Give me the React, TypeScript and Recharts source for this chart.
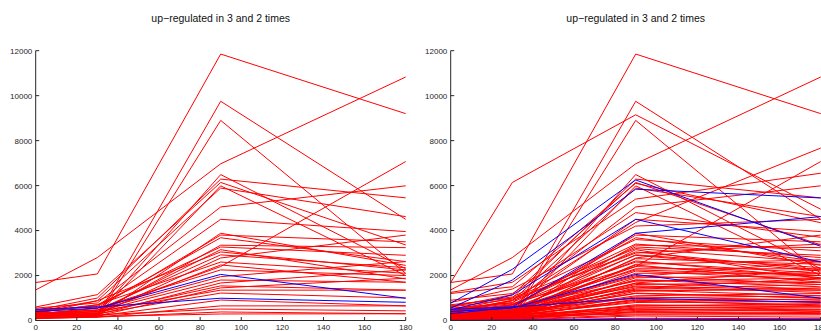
import React from 'react';
import { LineChart, Line, XAxis, YAxis } from 'recharts';

// time points (minutes)
const times = [0, 30, 90, 180];
const xTicks = [0, 20, 40, 60, 80, 100, 120, 140, 160, 180];
const yTicks = [0, 2000, 4000, 6000, 8000, 10000, 12000];
const title = 'up\u2212regulated in 3 and 2 times';

// each row: value at t = 0, 30, 90, 180
const leftRed = [
  [1690, 2070, 11850, 9200],
  [1360, 2800, 6970, 10830],
  [400, 200, 9750, 4500],
  [350, 150, 8900, 2100],
  [300, 450, 2400, 7070],
  [500, 300, 6490, 2300],
  [450, 1000, 6290, 5455],
  [600, 1150, 6140, 3360],
  [250, 250, 5990, 2000],
  [300, 880, 5890, 4620],
  [550, 780, 5050, 5990],
  [400, 650, 4500, 3955],
  [350, 200, 3880, 2450],
  [300, 550, 3800, 3500],
  [450, 620, 3680, 2620],
  [200, 330, 3350, 3240],
  [350, 700, 3270, 2900],
  [250, 400, 3150, 1850],
  [400, 880, 3050, 2250],
  [300, 470, 2920, 2350],
  [200, 260, 2780, 3800],
  [350, 700, 2600, 2100],
  [150, 330, 2470, 1700],
  [250, 550, 2250, 2000],
  [300, 470, 1950, 2620],
  [200, 400, 1800, 1700],
  [150, 260, 1670, 2250],
  [250, 350, 1540, 1350],
  [100, 200, 1450, 1880],
  [300, 400, 1350, 1350],
  [200, 300, 1220, 1000],
  [150, 200, 910, 650],
  [100, 150, 650, 650],
  [200, 250, 510, 430],
  [80, 150, 380, 300],
  [120, 180, 290, 300],
];

const leftBlue = [
  [400, 550, 2050, 990],
  [500, 600, 990, 810],
];

// extra genes only in the right panel
const rightExtraRed = [
  [1690, 6140, 9150, 4950],
  [400, 900, 4360, 7670],
  [1200, 1500, 6100, 4350],
  [1250, 1700, 5400, 6550],
  [900, 1200, 4800, 3700],
  [800, 1400, 4200, 4500],
  [650, 1050, 3600, 3100],
  [500, 800, 3400, 2800],
  [700, 1000, 3200, 2600],
  [600, 950, 3000, 3400],
  [400, 700, 2900, 2200],
  [350, 300, 2750, 2500],
  [300, 550, 2650, 1900],
  [250, 200, 2500, 2700],
  [450, 750, 2400, 2000],
  [200, 450, 2300, 2300],
  [350, 250, 2200, 1800],
  [150, 400, 2100, 2100],
  [300, 500, 2000, 1600],
  [250, 150, 1900, 2000],
  [100, 350, 1800, 1500],
  [400, 600, 1750, 1900],
  [200, 400, 1650, 1400],
  [150, 300, 1600, 1700],
  [300, 450, 1500, 1250],
  [100, 250, 1400, 1600],
  [250, 400, 1350, 1100],
  [50, 200, 1300, 1450],
  [200, 350, 1200, 1000],
  [150, 300, 1100, 1200],
  [100, 250, 1050, 900],
  [300, 400, 1000, 1100],
  [50, 150, 950, 800],
  [200, 300, 900, 950],
  [100, 200, 850, 700],
  [150, 250, 800, 850],
  [50, 100, 700, 600],
  [100, 200, 650, 750],
  [30, 100, 600, 500],
  [80, 150, 550, 600],
  [20, 80, 500, 400],
  [60, 120, 450, 500],
  [10, 50, 400, 350],
  [40, 100, 350, 300],
  [20, 60, 250, 250],
  [10, 30, 200, 150],
  [5, 20, 100, 80],
  [5, 10, 50, 40],
];

const rightExtraBlue = [
  [770, 2280, 6250, 3300],
  [550, 1800, 5840, 5450],
  [470, 1135, 4500, 2600],
  [300, 600, 3880, 4620],
  [5, 15, 60, 50],
];

const FONT = '"Liberation Sans", Arial, Helvetica, sans-serif';
const AXIS = '#262626';

const buildRows = (series: number[][]) =>
  times.map((t, i) => {
    const row: Record<string, number> = { t };
    series.forEach((s, k) => {
      row['g' + k] = s[i];
    });
    return row;
  });

const XTick = (props: any) => {
  const { x, y, payload } = props;
  return (
    <g>
      <line x1={x} x2={x} y1={y} y2={y - 3.5} stroke={AXIS} strokeWidth={1} />
      <text x={x} y={y + 9.5} textAnchor="middle" fontSize={8} fill={AXIS} fontFamily={FONT}>
        {payload.value}
      </text>
    </g>
  );
};

const YTick = (props: any) => {
  const { x, y, payload } = props;
  return (
    <g>
      <line x1={x} x2={x + 3.5} y1={y} y2={y} stroke={AXIS} strokeWidth={1} />
      <text x={x - 3.4} y={y + 2.9} textAnchor="end" fontSize={8} fill={AXIS} fontFamily={FONT}>
        {payload.value}
      </text>
    </g>
  );
};

const Panel = ({ red, blue, left }: { red: number[][]; blue: number[][]; left: number }) => {
  const all = [...red, ...blue];
  const rows = buildRows(all);
  return (
    <div style={{ position: 'absolute', left, top: 0, width: 420, height: 331 }}>
      <div
        style={{
          position: 'absolute',
          left: 35.7,
          width: 370,
          top: 12,
          lineHeight: '12px',
          textAlign: 'center',
          fontSize: 10.5,
          fontFamily: FONT,
          color: '#111',
          whiteSpace: 'nowrap',
        }}
      >
        {title}
      </div>
      <LineChart
        width={420}
        height={331}
        data={rows}
        margin={{ top: 50.7, right: 14.3, bottom: 0, left: 0 }}
      >
        <XAxis
          type="number"
          dataKey="t"
          domain={[0, 180]}
          ticks={xTicks}
          interval={0}
          height={10.5}
          tickSize={0}
          tickMargin={0}
          tick={<XTick />}
          axisLine={{ stroke: AXIS, strokeWidth: 1 }}
        />
        <YAxis
          type="number"
          domain={[0, 12000]}
          ticks={yTicks}
          interval={0}
          width={35.7}
          tickSize={0}
          tickMargin={0}
          tick={<YTick />}
          axisLine={{ stroke: AXIS, strokeWidth: 1 }}
        />
        {all.map((_, k) => (
          <Line
            key={k}
            dataKey={'g' + k}
            type="linear"
            stroke={k < red.length ? '#ff0000' : '#0000ff'}
            strokeWidth={1}
            dot={false}
            activeDot={false}
            isAnimationActive={false}
          />
        ))}
      </LineChart>
    </div>
  );
};

export default function App() {
  return (
    <div
      style={{
        position: 'absolute',
        left: 0,
        top: 0,
        width: 821,
        height: 331,
        overflow: 'hidden',
        background: '#fff',
      }}
    >
      <Panel red={leftRed} blue={leftBlue} left={0} />
      <Panel red={[...leftRed, ...rightExtraRed]} blue={[...leftBlue, ...rightExtraBlue]} left={415} />
    </div>
  );
}
